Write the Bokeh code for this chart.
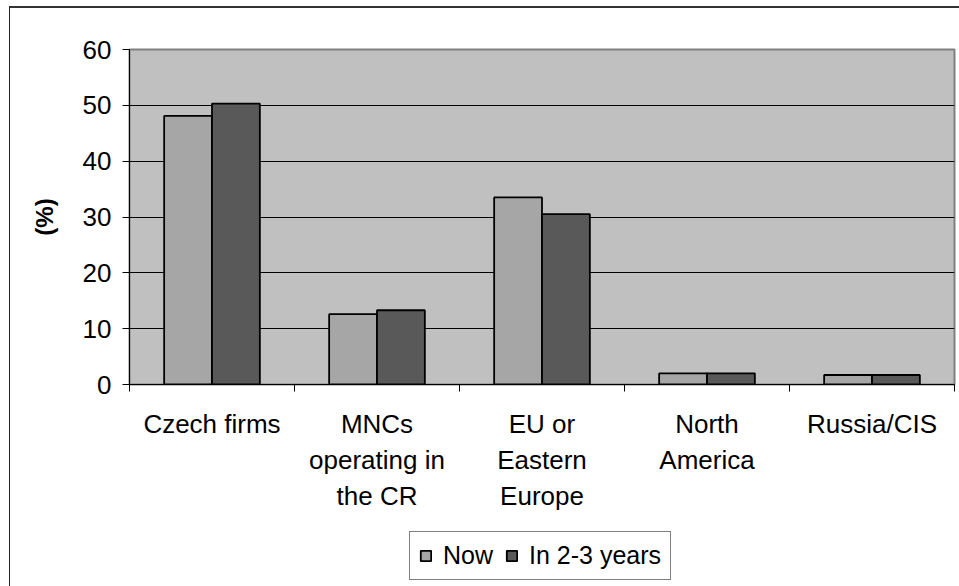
from bokeh.plotting import figure
from bokeh.models import (ColumnDataSource, Range1d, FixedTicker, Legend, LegendItem)
from bokeh.layouts import column
from bokeh.core.properties import value
from bokeh.transform import dodge
from bokeh.embed import file_html
from bokeh.resources import INLINE

categories = ["Czech firms", "MNCs\noperating in\nthe CR", "EU or\nEastern\nEurope",
              "North\nAmerica", "Russia/CIS"]
now = [48.1, 12.6, 33.5, 2.0, 1.7]
later = [50.3, 13.3, 30.5, 2.0, 1.7]
y_ticks = [0, 10, 20, 30, 40, 50, 60]
series_names = ["Now", "In 2-3 years"]

FONT = "Liberation Sans"
idx = list(range(len(categories)))
source = ColumnDataSource(data=dict(x=idx, now=now, later=later))
label_src = ColumnDataSource(data=dict(x=idx, label=categories))

p = figure(frame_width=824, frame_height=333, output_backend="svg", toolbar_location=None,
           x_range=Range1d(-0.5, len(categories) - 0.5), y_range=Range1d(0, 60),
           min_border_left=119, min_border_right=6, min_border_top=41,
           min_border_bottom=16, background_fill_color="#c0c0c0",
           border_fill_color="white")
p.margin = (6, 0, 0, 9)
p.styles = {"border-left": "1px solid #222", "border-top": "2px solid #333"}
p.outline_line_color = "#808080"
p.outline_line_width = 2

bar_now = dict(fill_color="#a6a6a6", line_color="black", line_width=1.8)
bar_later = dict(fill_color="#595959", line_color="black", line_width=1.8)
p.vbar(x=dodge("x", -0.145, range=p.x_range), top="now", width=0.29, source=source, **bar_now)
p.vbar(x=dodge("x", 0.145, range=p.x_range), top="later", width=0.29, source=source, **bar_later)

# x axis: only boundary ticks; category labels are drawn in the panel below
xa = p.xaxis[0]
xa.ticker = FixedTicker(ticks=[], minor_ticks=[i - 0.5 for i in range(len(categories) + 1)])
xa.major_tick_out = 0
xa.major_tick_in = 0
xa.minor_tick_out = 7
xa.minor_tick_in = 0
xa.minor_tick_line_color = "black"
xa.axis_line_color = "black"
xa.major_label_standoff = 0

# y axis
ya = p.yaxis[0]
ya.ticker = FixedTicker(ticks=y_ticks)
ya.major_tick_out = 7
ya.major_tick_in = 0
ya.minor_tick_line_color = None
ya.axis_line_color = "black"
ya.major_tick_line_color = "black"
ya.major_label_text_font = FONT
ya.major_label_text_font_size = "26px"
ya.major_label_text_color = "black"
ya.major_label_standoff = 11
ya.axis_label = "(%)"
ya.axis_label_text_font = FONT
ya.axis_label_text_font_size = "24px"
ya.axis_label_text_font_style = "bold"
ya.axis_label_text_color = "black"
ya.axis_label_standoff = 22

p.xgrid.grid_line_color = None
p.ygrid.grid_line_color = "black"
p.ygrid.grid_line_width = 1
p.ygrid.ticker = FixedTicker(ticks=y_ticks)

# lower panel: category labels and legend
lf = figure(frame_width=824, frame_height=188, output_backend="svg", toolbar_location=None,
            x_range=p.x_range, y_range=Range1d(188, 0),
            min_border_left=119, min_border_right=6, min_border_top=0, min_border_bottom=0,
            x_axis_location=None, y_axis_location=None,
            background_fill_color="white", border_fill_color="white")
lf.margin = (0, 0, 0, 9)
lf.styles = {"border-left": "1px solid #222"}
lf.outline_line_color = None
lf.xgrid.grid_line_color = None
lf.ygrid.grid_line_color = None
lf.text(x="x", y=10, text="label", source=label_src, text_font=value(FONT),
        text_font_size="26px", text_align="center", text_baseline="top",
        text_line_height=1.2, text_color="black")

d1 = lf.vbar(x="x", top="now", width=0.29, source=source, **bar_now)
d2 = lf.vbar(x="x", top="later", width=0.29, source=source, **bar_later)
d1.visible = False
d2.visible = False

legend = Legend(items=[LegendItem(label=series_names[0], renderers=[d1]),
                       LegendItem(label=series_names[1], renderers=[d2])],
                orientation="horizontal", location=(280, 6))
legend.label_text_font = FONT
legend.label_text_font_size = "25px"
legend.label_text_color = "black"
legend.glyph_width = 13
legend.glyph_height = 13
legend.label_standoff = 11
legend.spacing = 12
legend.padding = 9
legend.margin = 0
legend.border_line_color = "black"
legend.border_line_width = 1
legend.background_fill_color = "white"
legend.background_fill_alpha = 1
legend.inactive_fill_alpha = 0
lf.add_layout(legend)

layout = column(p, lf, spacing=0)
open("out.html", "w").write(file_html(layout, INLINE))
